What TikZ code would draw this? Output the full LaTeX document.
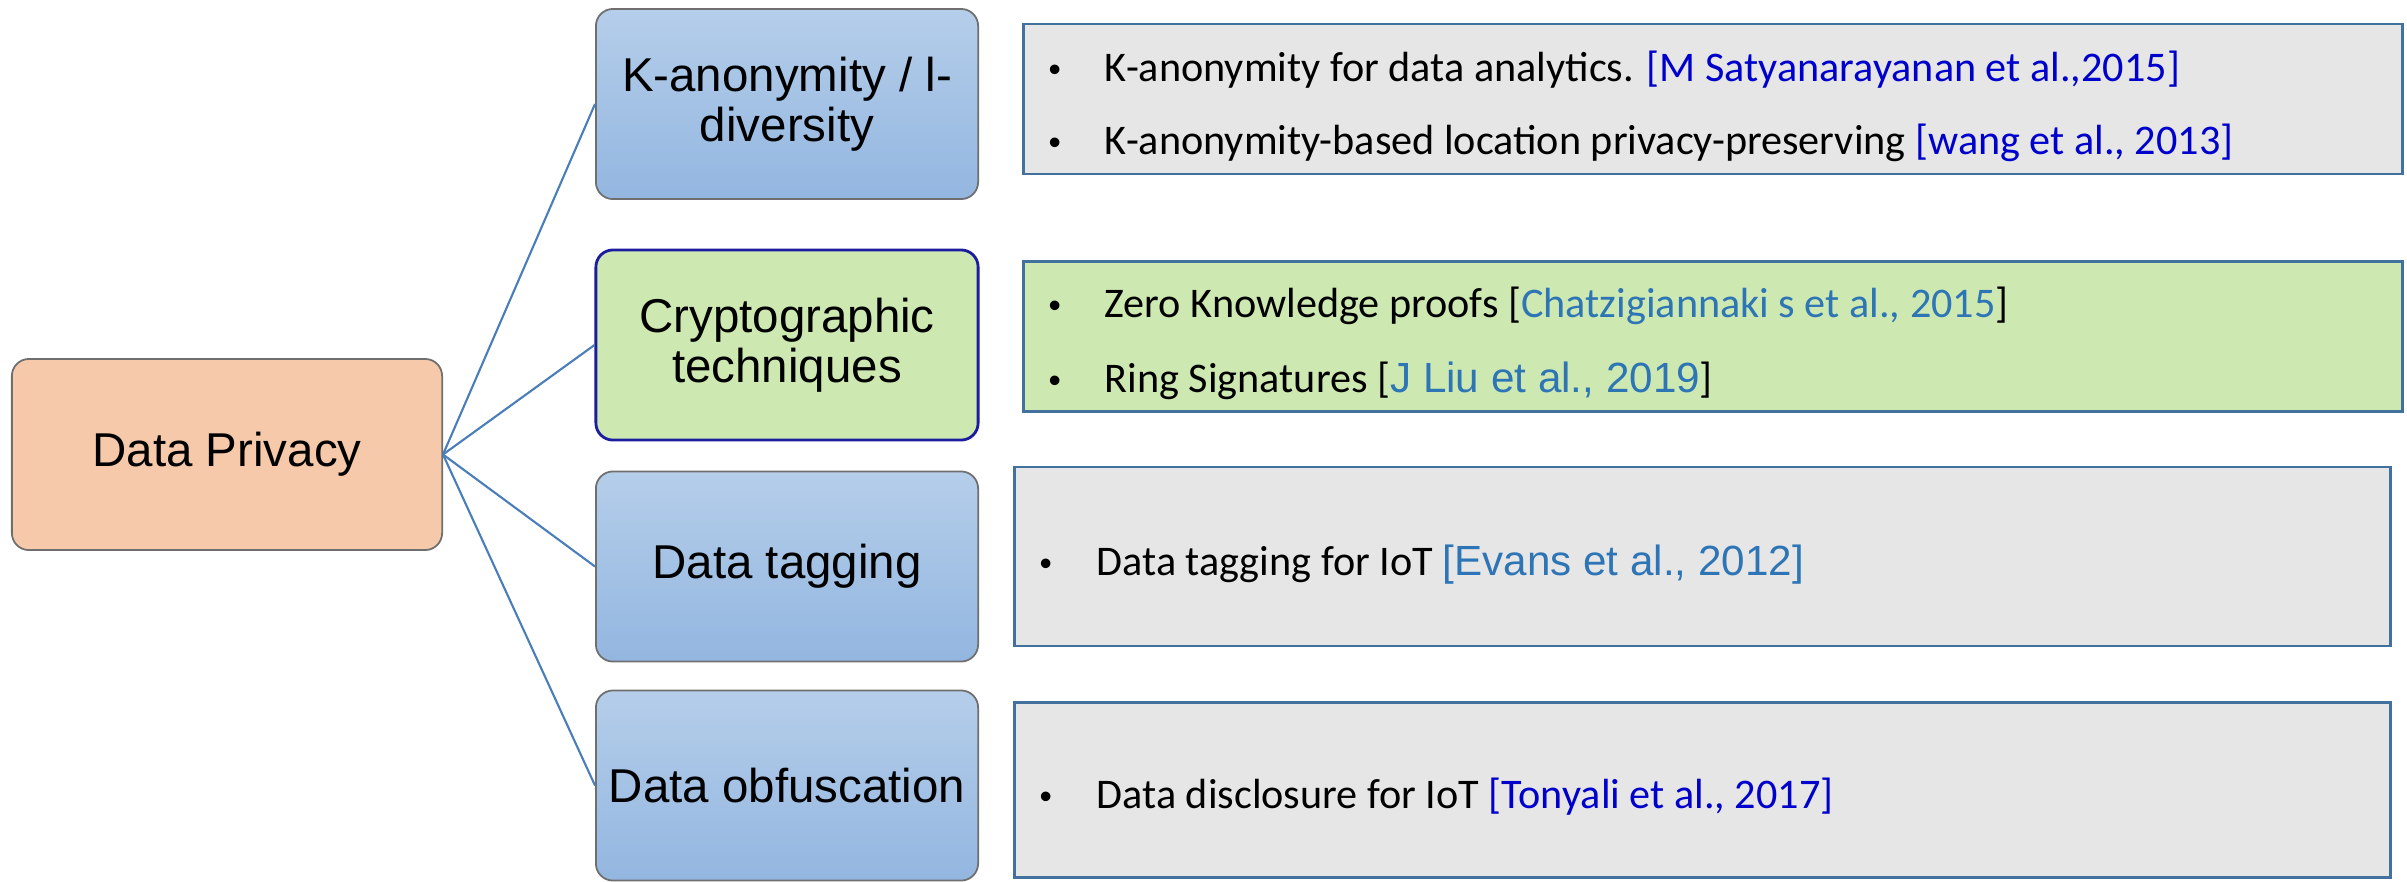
\documentclass[tikz,border=0pt]{standalone}
\usepackage{fontspec}
\setmainfont{Liberation Sans}
\newfontfamily\calibri{Carlito}
\definecolor{dpfill}{HTML}{F5C9A9}
\definecolor{boxgray}{HTML}{6F6F6F}
\definecolor{ltop}{HTML}{B5CEEA}
\definecolor{lbot}{HTML}{93B6E0}
\definecolor{greenfill}{HTML}{CDE8B0}
\definecolor{grayfill}{HTML}{E6E6E6}
\definecolor{rborder}{HTML}{41719C}
\definecolor{linecol}{HTML}{4A7EBB}
\definecolor{navy}{HTML}{1C1CA0}
\definecolor{citedark}{HTML}{0000CC}
\definecolor{citelight}{HTML}{2E75B6}
\newcommand{\bul}[1]{\makebox[#1][l]{\rmfamily\fontsize{10}{10}\selectfont\textbullet}}
\tikzset{
  rootbox/.style={draw=boxgray, line width=0.5pt, rounded corners=0.17cm, fill=dpfill,
    minimum width=4.3cm, minimum height=1.91cm, inner sep=0pt, align=center,
    font=\fontsize{13.5}{13.8}\selectfont},
  catbox/.style={draw=boxgray, line width=0.5pt, rounded corners=0.17cm,
    top color=ltop, bottom color=lbot,
    minimum width=3.82cm, minimum height=1.9cm, inner sep=0pt, align=center,
    font=\fontsize{13.5}{14.2}\selectfont},
  greencat/.style={catbox, draw=navy, line width=0.8pt, fill=greenfill, top color=greenfill, bottom color=greenfill},
  refbox/.style={draw=rborder, line width=0.8pt, inner sep=0pt},
  reftext/.style={anchor=base west, inner sep=0pt, font=\calibri\fontsize{12}{14}\selectfont},
  link/.style={draw=linecol, line width=0.6pt}
}
\begin{document}
\begin{tikzpicture}[x=0.01cm,y=-0.01cm]
\useasboundingbox (0,0) rectangle (2407,881);

% right reference boxes
\node[refbox, fill=grayfill, minimum width=13.78cm, minimum height=1.5cm] (r1) at (1713,99) {};
\node[refbox, fill=greenfill, minimum width=13.78cm, minimum height=1.5cm] (r2) at (1713,336.5) {};
\node[refbox, fill=grayfill, minimum width=13.75cm, minimum height=1.79cm] (r3) at (1702.5,556.5) {};
\node[refbox, fill=grayfill, minimum width=13.75cm, minimum height=1.75cm] (r4) at (1702.5,790) {};

% root and categories
\node[rootbox] (dp) at (227,454.5) {Data Privacy};
\node[catbox] (kan) at (787,104) {K-anonymity / l-\\diversity};
\node[greencat] (cry) at (787,345) {Cryptographic\\techniques};
\node[catbox] (tag) at (787,566.5) {Data tagging};
\node[catbox] (obf) at (787,785.5) {Data obfuscation};

% connectors
\draw[link] (dp.east) -- (kan.west);
\draw[link] (dp.east) -- (cry.west);
\draw[link] (dp.east) -- (tag.west);
\draw[link] (dp.east) -- (obf.west);

% reference texts
\node[reftext] (t1) at (1048,81) {\bul{0.56cm}K-anonymity for data analytics. \textcolor{citedark}{[M Satyanarayanan et al.,2015]}};
\node[reftext] (t2) at (1048,154) {\bul{0.56cm}K-anonymity-based location privacy-preserving \textcolor{citedark}{[wang et al., 2013]}};
\node[reftext] (t3) at (1048,317) {\bul{0.56cm}Zero Knowledge proofs [\textcolor{citelight}{Chatzigiannaki s et al., 2015}]};
\node[reftext] (t4) at (1048,392) {\bul{0.56cm}Ring Signatures [\textcolor{citelight}{\rmfamily J Liu et al., 2019}]};
\node[reftext] (t5) at (1039,575) {\bul{0.57cm}Data tagging for IoT \textcolor{citelight}{\rmfamily [Evans et al., 2012]}};
\node[reftext] (t6) at (1039,808) {\bul{0.57cm}Data disclosure for IoT \textcolor{citedark}{[Tonyali et al., 2017]}};
\end{tikzpicture}
\end{document}
